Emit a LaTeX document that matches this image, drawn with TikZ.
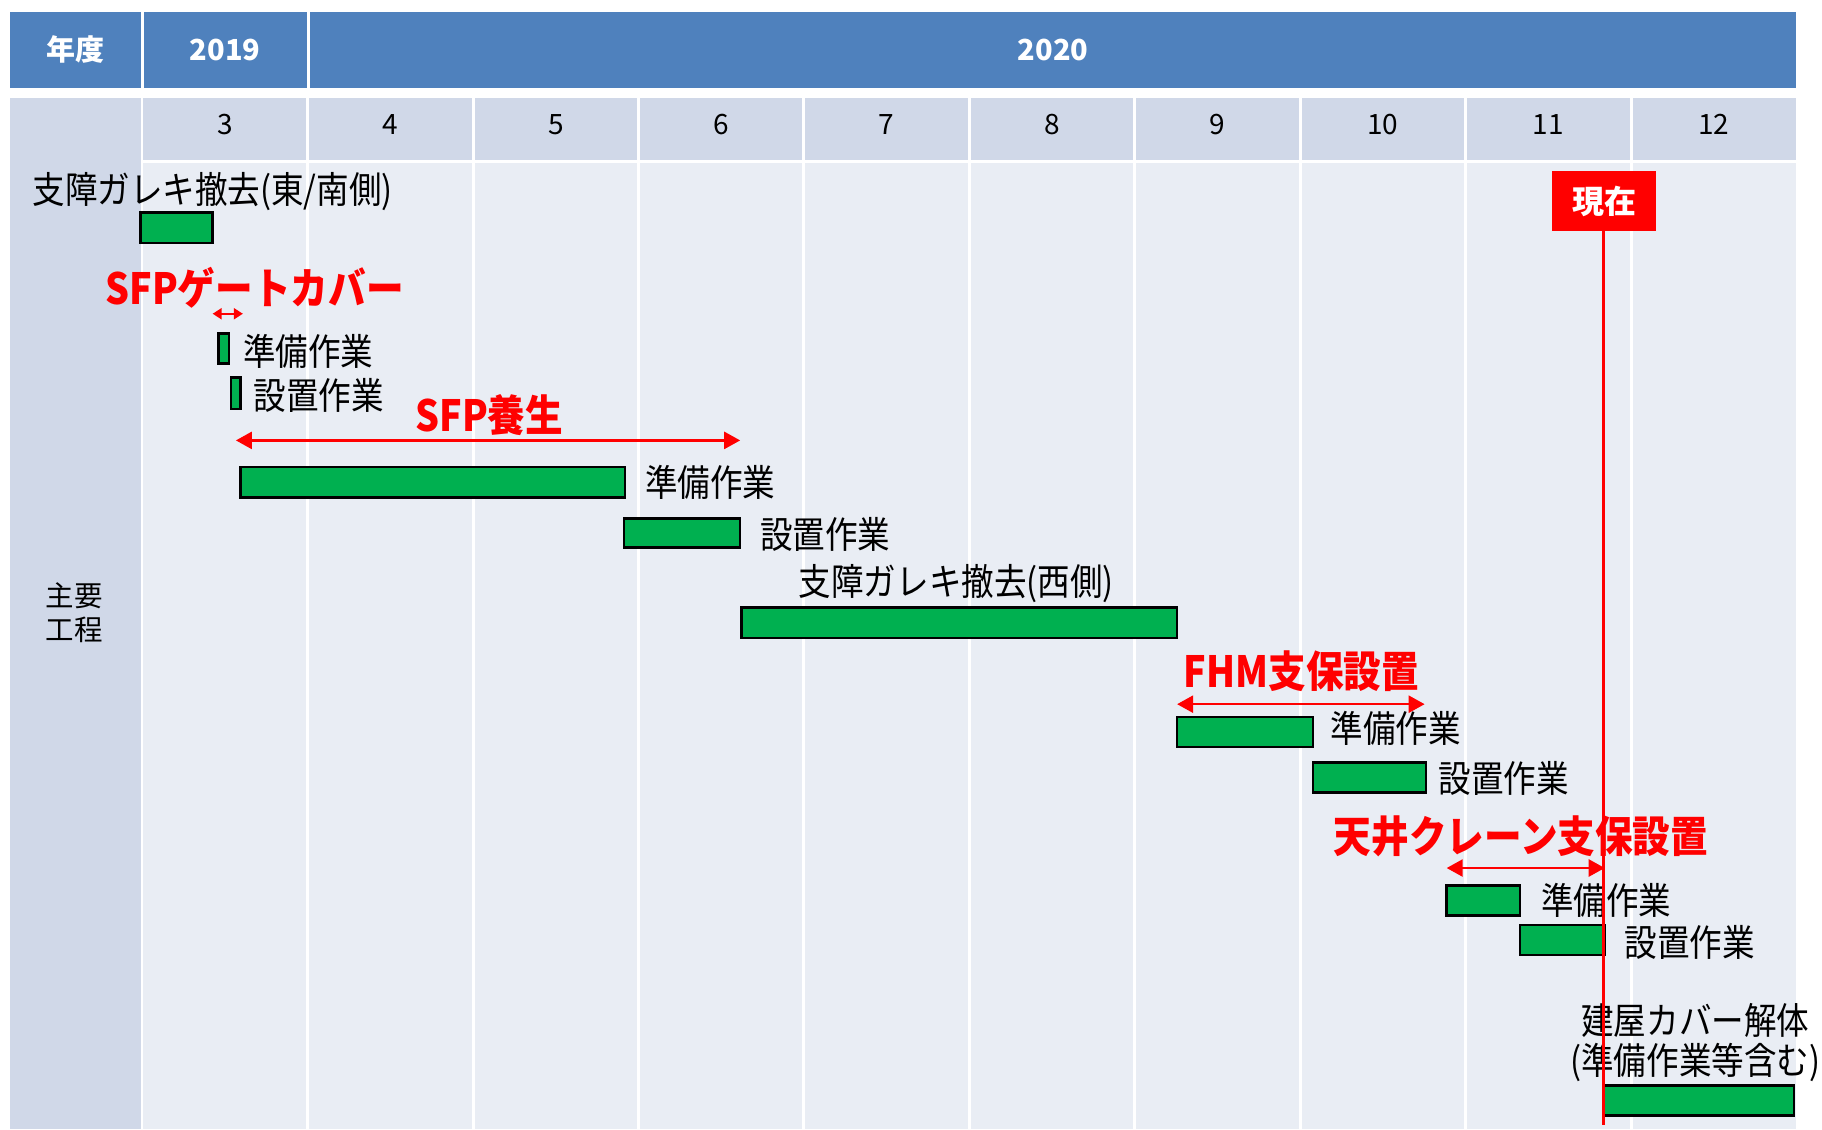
\documentclass[tikz,border=0pt]{standalone}
\usepackage{fontspec}
\usetikzlibrary{arrows.meta,fit}
\setmainfont{Noto Sans CJK JP}
\newfontfamily\lblfont{Noto Sans CJK JP}[FakeStretch=0.88]
\newfontfamily\redfont{Noto Sans CJK JP}[FakeStretch=0.875]
\definecolor{hdrblue}{HTML}{4F81BD}
\definecolor{monbg}{HTML}{D0D8E8}
\definecolor{bodybg}{HTML}{E9EDF4}
\definecolor{bargreen}{HTML}{00B050}
\definecolor{nowred}{HTML}{FF0000}
\tikzset{
  cellbox/.style={inner sep=0pt, outer sep=0pt, draw=none},
  hdrtext/.style={font=\bfseries\fontsize{29}{32}\selectfont, text=white, inner sep=0pt},
  nowtext/.style={font=\bfseries\fontsize{32}{36}\selectfont, text=white, inner sep=0pt},
  montext/.style={font=\fontsize{28}{30}\selectfont, text=black, inner sep=0pt},
  sidetext/.style={font=\fontsize{28.5}{34}\selectfont, text=black, inner sep=0pt, align=center},
  gantt/.style={draw=black, line width=2.5pt, fill=bargreen, inner sep=0pt, outer sep=0pt},
  lbl/.style={font=\lblfont\fontsize{37}{40}\selectfont, text=black, inner sep=0pt, yshift=-2.5pt},
  redlbl/.style={font=\redfont\bfseries\fontsize{43}{46}\selectfont, text=nowred, inner sep=0pt},
  redarr/.style={draw=nowred, line width=2.5pt, >={Triangle[length=16pt,width=17pt]}, <->},
  smallarr/.style={draw=nowred, line width=2pt, >={Triangle[length=9pt,width=11pt]}, <->},
  gridline/.style={draw=white, line width=3pt},
}
\begin{document}
\begin{tikzpicture}[x=1.162pt,y=-1.162pt]
\useasboundingbox (0,0) rectangle (1568,972);
% header row
\node[cellbox, fill=hdrblue, fit={(9,10) (121,76)}] (hA) {};
\node[cellbox, fill=hdrblue, fit={(123.5,10) (264,76)}] (hB) {};
\node[cellbox, fill=hdrblue, fit={(266.5,10) (1546,76)}] (hC) {};
\node[hdrtext] (tA) at (hA.center) {年度};
\node[hdrtext] (tB) at (hB.center) {2019};
\node[hdrtext] (tC) at (hC.center) {2020};
% side column
\node[cellbox, fill=monbg, fit={(9,84) (121,972)}] (side) {};
\node[sidetext] (sideT) at (64,527) {主要\\工程};
% month row and body
\node[cellbox, fill=monbg, fit={(123,84) (1546,138)}] (mrow) {};
\node[cellbox, fill=bodybg, fit={(123,140) (1546,972)}] (body) {};
\foreach \i in {1,...,9} {
  \draw[gridline] ({122.5+142.35*\i},84) -- ({122.5+142.35*\i},972);
}
\foreach \m [count=\i from 0] in {3,4,5,6,7,8,9,10,11,12} {
  \node[montext] (m\m) at ({122.5+142.35*\i+71.2},107) {\m};
}
% task 1
\node[lbl] (L1) at (183,163) {支障ガレキ撤去(東/南側)};
\node[gantt, fit={(121,183) (183,209)}] (b1) {};
% SFP gate cover
\node[redlbl] (R1) at (219,248) {SFPゲートカバー};
\coordinate (a1s) at (183,270);
\coordinate (a1e) at (209,270);
\draw[smallarr] (a1s) -- (a1e);
\node[gantt, fit={(188,287) (197,313)}] (b2) {};
\node[lbl, anchor=west] (L2) at (209,300) {準備作業};
\node[gantt, fit={(199,325) (207,352)}] (b3) {};
\node[lbl, anchor=west] (L3) at (218,338) {設置作業};
% SFP curing
\node[redlbl] (R2) at (421,357) {SFP養生};
\coordinate (a2s) at (203,379);
\coordinate (a2e) at (637,379);
\draw[redarr] (a2s) -- (a2e);
\node[gantt, fit={(207,402) (538,428)}] (b4) {};
\node[lbl, anchor=west] (L4) at (555,413) {準備作業};
\node[gantt, fit={(537,446) (637,471)}] (b5) {};
\node[lbl, anchor=west] (L5) at (654,458) {設置作業};
% west rubble
\node[lbl] (L6) at (823,500) {支障ガレキ撤去(西側)};
\node[gantt, fit={(638,523) (1013,549)}] (b6) {};
% FHM
\node[redlbl] (R3) at (1120,578) {FHM支保設置};
\coordinate (a3s) at (1013,606);
\coordinate (a3e) at (1226,606);
\draw[redarr] (a3s) -- (a3e);
\node[gantt, fit={(1013,617) (1130,643)}] (b7) {};
\node[lbl, anchor=west] (L7) at (1145,625) {準備作業};
\node[gantt, fit={(1130,656) (1227,682)}] (b8) {};
\node[lbl, anchor=west] (L8) at (1238,668) {設置作業};
% crane support
\node[redlbl] (R4) at (1309,720) {天井クレーン支保設置};
\coordinate (a4s) at (1245,747);
\coordinate (a4e) at (1381,747);
\draw[redarr] (a4s) -- (a4e);
\node[gantt, fit={(1245,762) (1308,788)}] (b9) {};
\node[lbl, anchor=west] (L9) at (1326,773) {準備作業};
\node[gantt, fit={(1308,796) (1381,822)}] (b10) {};
\node[lbl, anchor=west] (L10) at (1398,809) {設置作業};
% building cover dismantling
\node[lbl, align=center, font=\lblfont\fontsize{37}{39.5}\selectfont] (L11) at (1459,895) {建屋カバー解体\\(準備作業等含む)};
\node[gantt, fit={(1380,934) (1544,960)}] (b11) {};
% now marker
\node[cellbox, fill=nowred, fit={(1336,147) (1425,199)}] (now) {};
\node[nowtext] (nowT) at (now.center) {現在};
\coordinate (nowEnd) at (1380,968);
\draw[draw=nowred, line width=3.5pt] (now.south -| nowEnd) -- (nowEnd);
\end{tikzpicture}
\end{document}
